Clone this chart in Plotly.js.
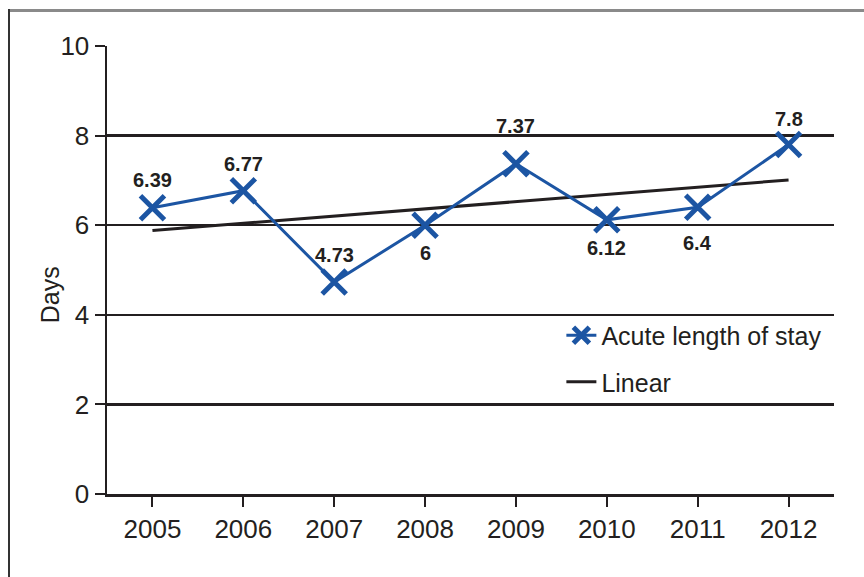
<!DOCTYPE html>
<html><head><meta charset="utf-8">
<script src="https://cdn.plot.ly/plotly-3.0.1.min.js"></script>
<style>
html,body{margin:0;padding:0;background:#fff;}
#wrap{position:relative;width:864px;height:577px;overflow:hidden;}
#chart{position:absolute;left:0;top:0;width:864px;height:577px;}
#ftop{position:absolute;left:9px;top:9px;width:855px;height:3px;background:#8a8a8a;}
#fleft{position:absolute;left:8px;top:9px;width:2px;height:568px;background:#333;}
#err{position:absolute;left:20px;top:540px;font:12px sans-serif;color:red;}
</style></head>
<body><div id="wrap"><div id="chart"></div><div id="ftop"></div><div id="fleft"></div><div id="err"></div></div>
<script>
const years = ['2005','2006','2007','2008','2009','2010','2011','2012'];
const stay = [6.39, 6.77, 4.73, 6, 7.37, 6.12, 6.4, 7.8];
const labels = ['6.39','6.77','4.73','6','7.37','6.12','6.4','7.8'];
const trendYears = ['2005','2012'];
const trendVals = [5.88, 7.01];
const yTicks = [0,2,4,6,8,10];

// label offsets in pixels (styling only)
const labelShift = [28,27,27,-28,38,-28,-36,26];

const blue = '#1C55A3';
const ink = '#231f20';
const font = 'Liberation Sans, Arial, Helvetica, sans-serif';

const traces = [
  {x: trendYears, y: trendVals, type:'scatter', mode:'lines', name:'Linear',
   line:{color:ink, width:3}, legendgroup:'b', legendrank:2, hoverinfo:'skip'},
  {x: years, y: stay, type:'scatter', mode:'lines+markers', name:'Acute length of stay',
   line:{color:blue, width:3},
   marker:{symbol:'x-thin', size:24, color:blue, line:{color:blue, width:5}},
   legendgroup:'a', legendrank:1}
];

const annotations = years.map((yr, i) => ({
  x: i, y: stay[i], xref:'x', yref:'y', text: '<b>' + labels[i] + '</b>', showarrow:false,
  yshift: labelShift[i], xanchor:'center', yanchor:'middle',
  font:{family:'Liberation Sans Narrow, Arial Narrow, Liberation Sans, Arial, sans-serif', size:20, color:ink}
}));
annotations.push({text:'Days', xref:'paper', yref:'paper', x:-0.078, y:0.5, yshift:-25,
                textangle:-90, showarrow:false, font:{size:25, color:ink},
                xanchor:'center', yanchor:'middle'});

const layout = {
  width:864, height:577,
  margin:{l:107, r:30, t:46, b:83},
  paper_bgcolor:'#fff', plot_bgcolor:'#fff',
  font:{family:font, color:ink, size:25},
  showlegend:true,
  legend:{x:0.625, y:0.405, xanchor:'left', yanchor:'top', traceorder:'grouped',
          tracegroupgap:11, bgcolor:'rgba(255,255,255,0)', font:{size:25, color:ink}},
  xaxis:{type:'category', categoryorder:'array', categoryarray:years, range:[-0.5,7.5],
         showgrid:false, zeroline:false, showline:true, linecolor:ink, linewidth:2.5,
         ticks:'outside', ticklen:10, tickwidth:2, tickcolor:ink,
         tickfont:{size:26, color:ink}, fixedrange:true},
  yaxis:{range:[0,10], tickvals:yTicks, showgrid:true, gridcolor:ink, gridwidth:2.5,
         zeroline:false, showline:true, linecolor:ink, linewidth:2.5,
         ticks:'outside', ticklen:10, tickwidth:2, tickcolor:ink,
         tickfont:{size:26, color:ink}, fixedrange:true},
  annotations: annotations
};

try {
  Plotly.newPlot('chart', traces, layout, {staticPlot:true, displayModeBar:false})
    .catch(e => { document.getElementById('err').textContent = String(e); });
} catch (e) { document.getElementById('err').textContent = String(e); }
</script></body></html>
